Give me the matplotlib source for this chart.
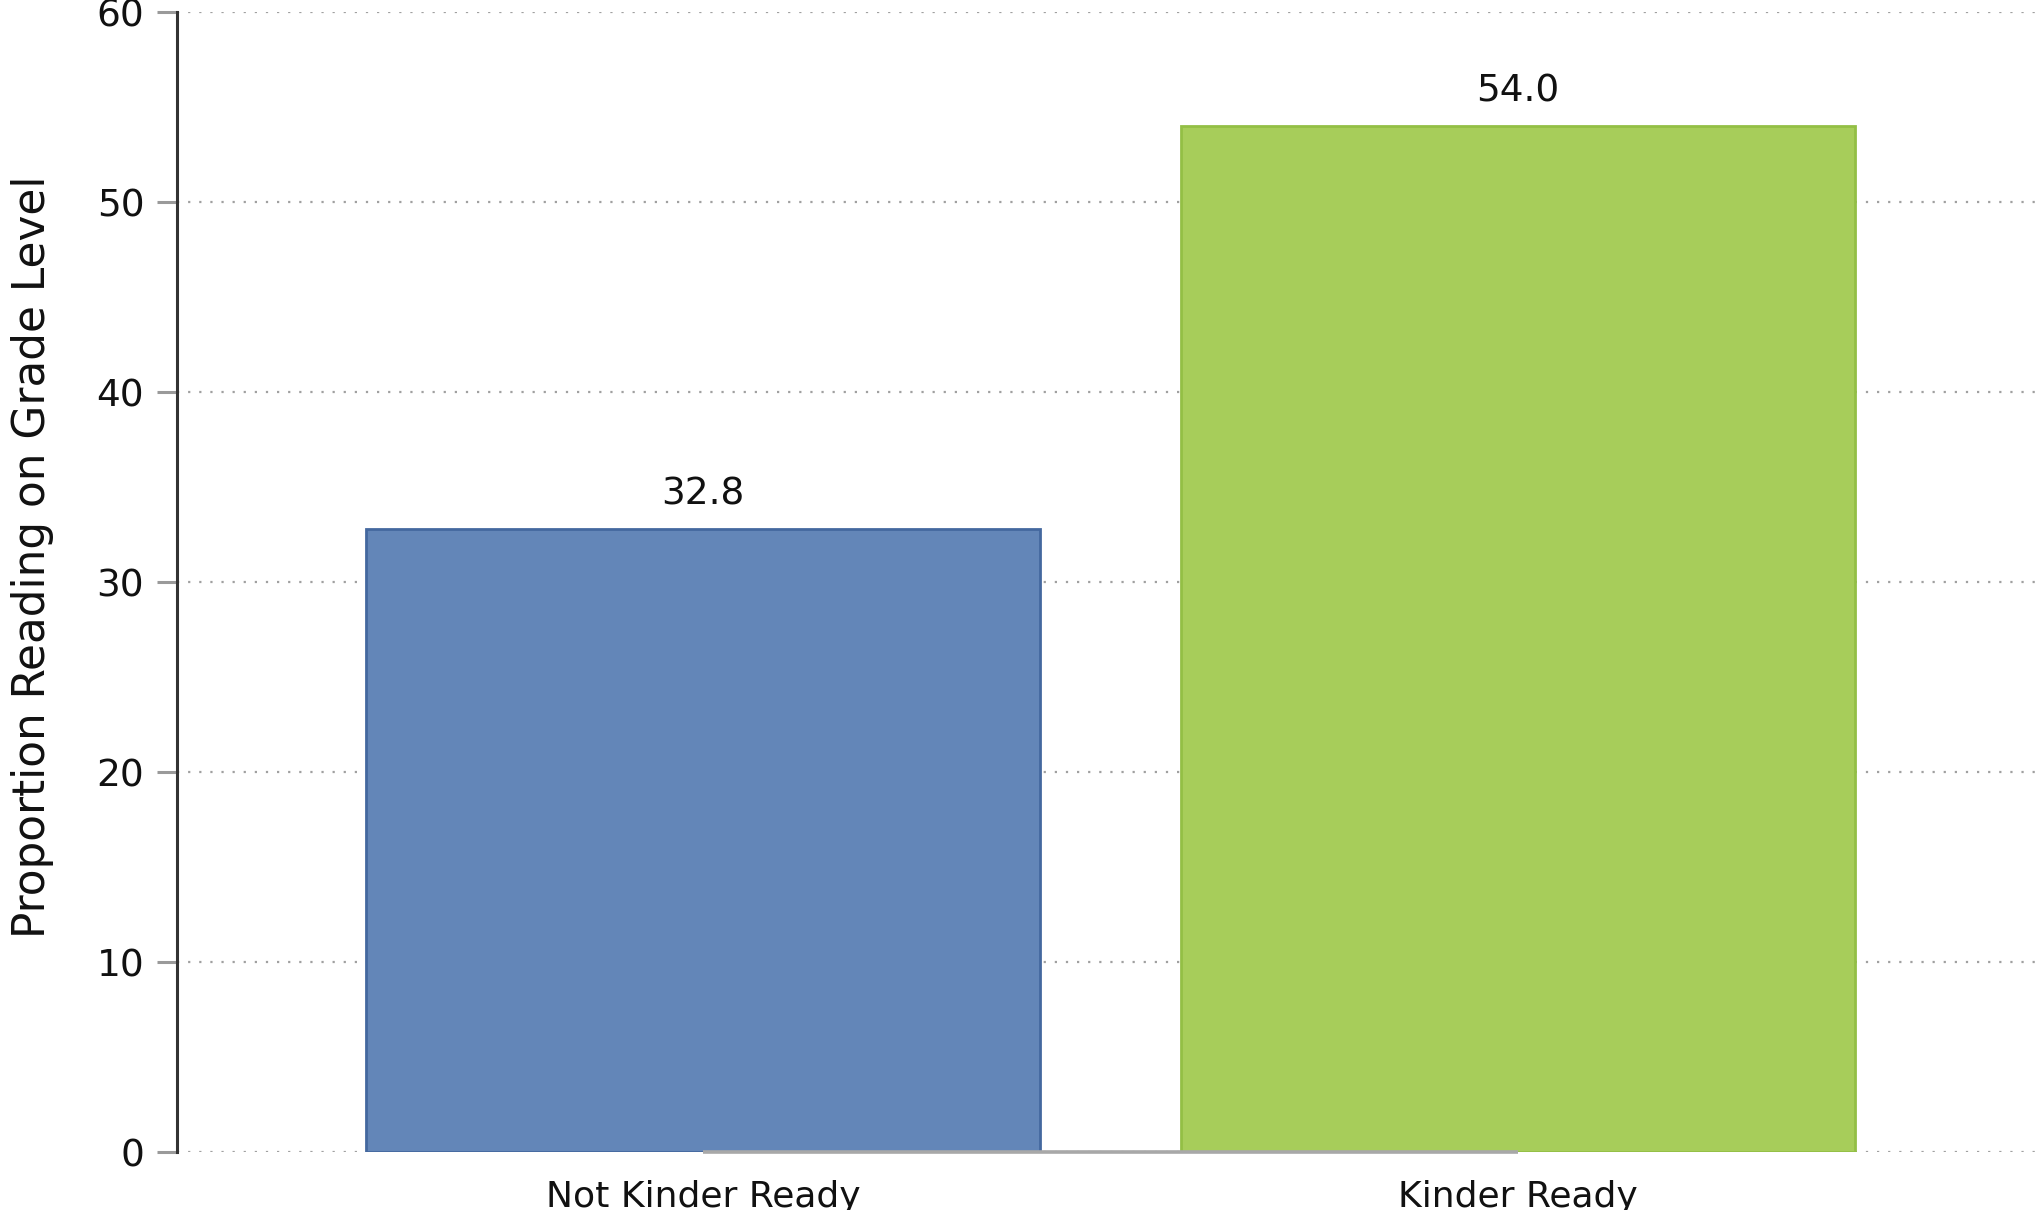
import numpy as np
import matplotlib
matplotlib.use('Agg')
import matplotlib.pyplot as plt

# Data
categories = ['Not Kinder Ready', 'Kinder Ready']
values = [32.8, 54.0]
bar_colors = ['#6386b8', '#a7cd5a']
edge_colors = ['#44689f', '#93bf45']
y_ticks = [0, 10, 20, 30, 40, 50, 60]

plt.rcParams['font.family'] = ['DejaVu Sans']

fig = plt.figure(figsize=(20.36, 12.10), dpi=100)
ax = fig.add_axes([0.0869, 0.0479, 1 - 0.0869, 0.9421])

x = np.arange(len(categories))

# Dotted horizontal grid behind the bars
ax.set_axisbelow(True)
ax.yaxis.grid(True, linestyle=(0, (1, 4)), color='#a0a0a0', linewidth=1.6)
ax.xaxis.grid(False)

ax.bar(x, values, width=0.828, color=bar_colors, edgecolor=edge_colors, linewidth=2, zorder=2)

# Gray baseline between category centres
ax.plot(x, [0] * len(x), color='#a8a8a8', linewidth=2.6, zorder=3,
        solid_capstyle='butt', clip_on=False)

# Value labels
for xi, v in zip(x, values):
    ax.annotate(f'{v:.1f}', (xi, v), xytext=(0, 12), textcoords='offset points',
                ha='center', va='bottom', fontsize=27, color='#111111')

ax.set_xlim(-0.6454, 1.6356)
ax.set_ylim(0, 60)
ax.set_yticks(y_ticks)
ax.set_xticks(x)
ax.set_xticklabels(categories, fontsize=26)

ax.tick_params(axis='y', direction='out', length=14.5, width=2.2, color='#9a9a9a',
               labelsize=27, pad=9, labelcolor='#111111')
ax.tick_params(axis='x', length=0, pad=20, labelcolor='#111111')

for side in ['top', 'right', 'bottom']:
    ax.spines[side].set_visible(False)
ax.spines['left'].set_color('#333333')
ax.spines['left'].set_linewidth(2.2)

ax.set_ylabel('Proportion Reading on Grade Level', fontsize=31.5, color='#111111')
ax.yaxis.set_label_coords(-0.066, 0.522)

fig.savefig('out.png', dpi=100)
